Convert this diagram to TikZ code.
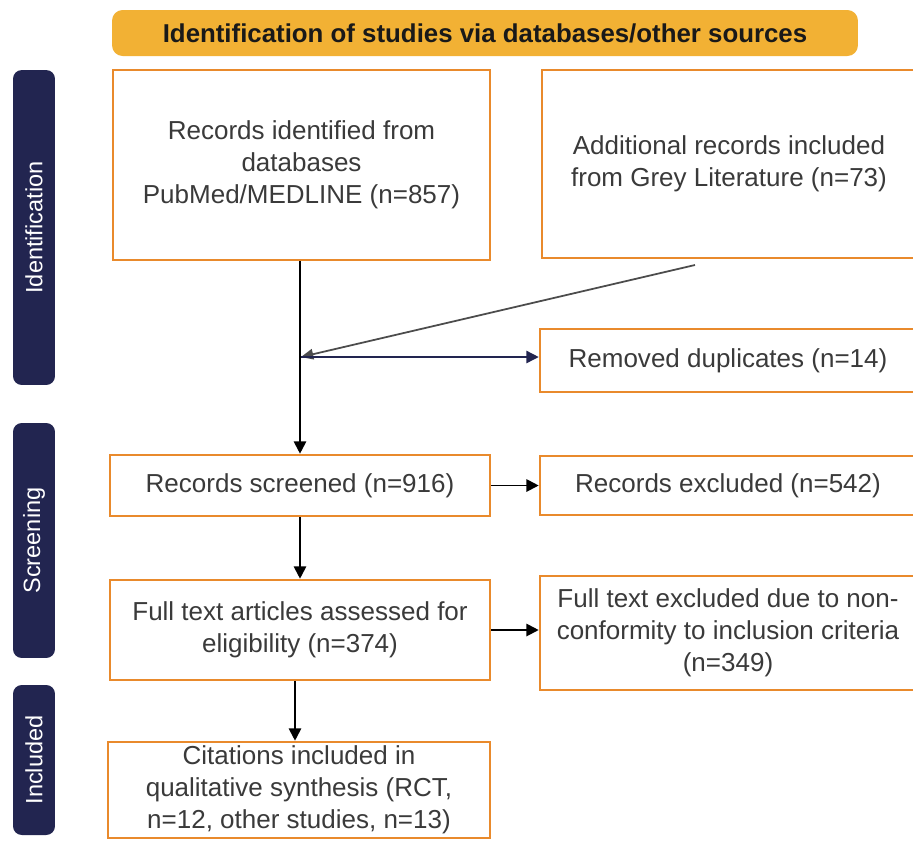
\documentclass[tikz,border=0pt]{standalone}
\usepackage{fontspec}
\setmainfont{Liberation Sans}
\usepackage{tikz}
\usetikzlibrary{arrows.meta,positioning}

\definecolor{bannergold}{HTML}{F2B134}
\definecolor{boxorange}{HTML}{E98A2C}
\definecolor{barnavy}{HTML}{222550}
\definecolor{txtgray}{HTML}{3A3A3A}

\begin{document}
\begin{tikzpicture}[
    x=0.02cm, y=-0.02cm,
    box/.style={rectangle, draw=boxorange, line width=1.5pt, fill=white, align=center,
        text=txtgray, inner sep=0pt, font=\fontsize{14.8}{18.2}\selectfont},
    phase/.style={rectangle, rounded corners=5pt, fill=barnavy, text=white, rotate=90,
        inner sep=0pt, minimum height=0.84cm, font=\fontsize{13.4}{16}\selectfont},
    banner/.style={rectangle, rounded corners=6pt, fill=bannergold, inner sep=0pt,
        text=black!90, font=\bfseries\fontsize{14.7}{17}\selectfont},
    arr/.style={-{Triangle[length=7pt,width=7pt]}, line width=1.1pt, black},
    grayarr/.style={-{Triangle[length=7pt,width=6pt]}, line width=1pt, black!70},
    navyarr/.style={-{Triangle[length=7pt,width=7pt]}, line width=0.8pt, barnavy}
]
\clip (0,0) rectangle (913,840);
\fill[white] (0,0) rectangle (913,840);

% Header
\node[banner, minimum width=14.92cm, minimum height=0.92cm] (head) at (485,33)
    {Identification of studies via databases/other sources};

% Phases
\node[phase, minimum width=6.3cm] (idbar) at (34,227.5) {Identification};
\node[phase, minimum width=4.7cm] (scrbar) at (34,540.5) {Screening};
\node[phase, minimum width=3.0cm] (incbar) at (34,760) {Included};

% Identification
\node[box, minimum width=7.54cm, minimum height=3.8cm] (db) at (301.5,165)
    {Records identified from\\databases\\PubMed/MEDLINE (n=857)};
\node[box, minimum width=7.48cm, minimum height=3.76cm] (grey) at (729,164)
    {Additional records included\\from Grey Literature (n=73)};
\node[box, minimum width=7.52cm, minimum height=1.26cm] (dup) at (728,360.5)
    {Removed duplicates (n=14)};

% Screening
\node[box, minimum width=7.6cm, minimum height=1.22cm] (screened) at (300,485.5)
    {Records screened (n=916)};
\node[box, minimum width=7.52cm, minimum height=1.18cm] (excl) at (728,485.5)
    {Records excluded (n=542)};
\node[box, minimum width=7.6cm, minimum height=2.0cm] (full) at (300,630)
    {Full text articles assessed for\\eligibility (n=374)};
\node[box, minimum width=7.52cm, minimum height=2.28cm] (ftexcl) at (728,633)
    {Full text excluded due to non-\\conformity to inclusion criteria\\(n=349)};

% Included
\node[box, minimum width=7.64cm, minimum height=1.92cm] (cite) at (299,790)
    {Citations included in\\qualitative synthesis (RCT,\\n=12, other studies, n=13)};

% Connectors
\coordinate (greyout) at (695,265);
\coordinate (merge) at (301,357);
\draw[arr] (screened.north |- db.south) -- (screened.north);
\draw[grayarr] (greyout) -- (merge);
\draw[navyarr] (merge) -- (merge -| dup.west);
\draw[arr] (screened.east) -- (screened.east -| excl.west);
\draw[arr] (screened.south) -- (full.north);
\draw[arr] (full.east) -- (full.east -| ftexcl.west);
\draw[arr] (full.south -| 295,0) -- (cite.north -| 295,0);
\end{tikzpicture}
\end{document}
